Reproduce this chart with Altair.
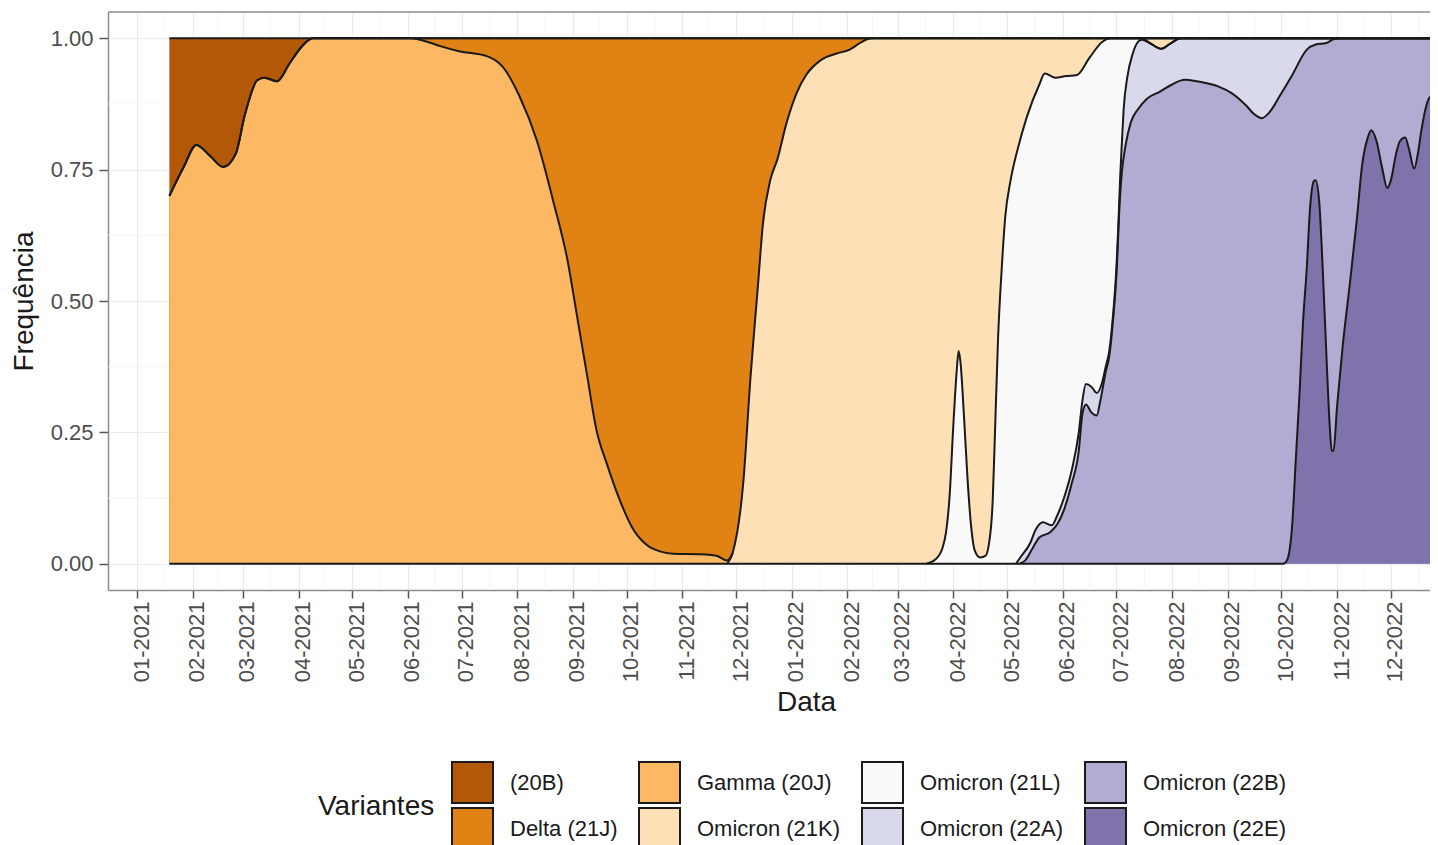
import altair as alt
import pandas as pd

# ---------------- data ----------------
variants = ["(20B)", "Delta (21J)", "Gamma (20J)", "Omicron (21K)",
            "Omicron (21L)", "Omicron (22A)", "Omicron (22B)", "Omicron (22E)"]
variant_colors = ["#b35806", "#e08214", "#fdb863", "#fee0b6",
                  "#f9f9f9", "#d8daeb", "#b2abd2", "#8073ac"]

tick_labels = ["01-2021", "02-2021", "03-2021", "04-2021", "05-2021", "06-2021",
               "07-2021", "08-2021", "09-2021", "10-2021", "11-2021", "12-2021",
               "01-2022", "02-2022", "03-2022", "04-2022", "05-2022", "06-2022",
               "07-2022", "08-2022", "09-2022", "10-2022", "11-2022", "12-2022"]
y_ticks = [0.0, 0.25, 0.5, 0.75, 1.0]
y_minor = [0.125, 0.375, 0.625, 0.875]

# Upper edge of each variant's band in the stacked frequency plot
# (stack from bottom: 22E, 22B, 22A, 21L, 21K, Gamma, Delta, 20B)
top_20b_dates = ["2021-01-19", "2022-12-27"]
top_20b = [1.0, 1.0]

top_delta_dates = ["2021-01-19", "2021-01-27", "2021-02-03", "2021-02-11", "2021-02-18",
                   "2021-02-25", "2021-03-02", "2021-03-09", "2021-03-13", "2021-03-20",
                   "2021-03-27", "2021-04-02", "2021-04-06", "2021-04-09", "2022-12-27"]
top_delta = [0.70, 0.755, 0.797, 0.775, 0.755, 0.78, 0.853, 0.92, 0.925, 0.918,
             0.952, 0.981, 0.995, 1.0, 1.0]

top_gamma_dates = ["2021-01-19", "2021-01-27", "2021-02-03", "2021-02-11", "2021-02-18",
                   "2021-02-25", "2021-03-02", "2021-03-09", "2021-03-13", "2021-03-20",
                   "2021-03-27", "2021-04-02", "2021-04-06", "2021-04-09",
                   "2021-06-02", "2021-06-13", "2021-06-19", "2021-06-30", "2021-07-15",
                   "2021-07-24", "2021-08-02", "2021-08-12", "2021-08-21", "2021-08-29",
                   "2021-09-03", "2021-09-09", "2021-09-14", "2021-09-20", "2021-09-27",
                   "2021-10-04", "2021-10-12", "2021-10-20", "2021-10-27", "2021-11-11",
                   "2021-11-20", "2021-11-26", "2021-11-29"]
top_gamma = [0.70, 0.755, 0.797, 0.775, 0.755, 0.78, 0.853, 0.92, 0.925, 0.918,
             0.952, 0.981, 0.995, 1.0,
             1.0, 0.992, 0.985, 0.975, 0.966, 0.945, 0.891, 0.804, 0.69, 0.577,
             0.477, 0.356, 0.256, 0.189, 0.122, 0.069, 0.036, 0.023, 0.019, 0.018,
             0.015, 0.006, 0.02]

top_21k_dates = ["2021-11-26", "2021-11-29", "2021-12-05", "2021-12-09", "2021-12-13",
                 "2021-12-16", "2021-12-20", "2021-12-24", "2021-12-29", "2022-01-04",
                 "2022-01-09", "2022-01-17", "2022-01-26", "2022-02-02", "2022-02-08",
                 "2022-02-12", "2022-02-15", "2022-12-27"]
top_21k = [0.0, 0.02, 0.156, 0.356, 0.524, 0.65, 0.73, 0.77, 0.838, 0.898,
           0.93, 0.958, 0.971, 0.978, 0.991, 0.998, 1.0, 1.0]

top_21l_dates = ["2022-03-17", "2022-03-22", "2022-03-26", "2022-03-28", "2022-03-30",
                 "2022-04-01", "2022-04-03", "2022-04-04", "2022-04-05", "2022-04-07",
                 "2022-04-09", "2022-04-11", "2022-04-13", "2022-04-16", "2022-04-19",
                 "2022-04-21", "2022-04-23", "2022-04-24", "2022-04-26", "2022-04-28",
                 "2022-04-30", "2022-05-03", "2022-05-07", "2022-05-12", "2022-05-19",
                 "2022-05-22", "2022-05-28", "2022-06-03", "2022-06-09", "2022-06-16",
                 "2022-06-23", "2022-06-28", "2022-07-15", "2022-07-20", "2022-07-26",
                 "2022-07-31", "2022-08-06", "2022-12-27"]
top_21l = [0.0, 0.008, 0.03, 0.06, 0.13, 0.26, 0.37, 0.405, 0.385, 0.28,
           0.16, 0.07, 0.025, 0.012, 0.015, 0.04, 0.12, 0.22, 0.43, 0.56,
           0.66, 0.73, 0.79, 0.85, 0.912, 0.933, 0.925, 0.928, 0.93, 0.963,
           0.993, 1.0, 1.0, 0.99, 0.98, 0.99, 1.0, 1.0]

top_22a_dates = ["2022-05-06", "2022-05-08", "2022-05-14", "2022-05-17", "2022-05-21",
                 "2022-05-26", "2022-05-29", "2022-06-02", "2022-06-06", "2022-06-10",
                 "2022-06-12", "2022-06-14", "2022-06-17", "2022-06-20", "2022-06-23",
                 "2022-06-25", "2022-06-27", "2022-06-29", "2022-07-01", "2022-07-02",
                 "2022-07-03", "2022-07-04", "2022-07-05", "2022-07-07", "2022-07-10",
                 "2022-07-13", "2022-07-15", "2022-07-20", "2022-07-26", "2022-07-31",
                 "2022-08-06", "2022-12-27"]
top_22a = [0.0, 0.01, 0.04, 0.065, 0.079, 0.073, 0.092, 0.128, 0.177, 0.25,
           0.31, 0.342, 0.337, 0.325, 0.345, 0.375, 0.405, 0.47, 0.565, 0.64,
           0.73, 0.8, 0.865, 0.925, 0.97, 0.993, 0.997, 0.99, 0.98, 0.99,
           1.0, 1.0]

top_22b_dates = ["2022-05-08", "2022-05-11", "2022-05-15", "2022-05-19", "2022-05-25",
                 "2022-05-29", "2022-06-02", "2022-06-06", "2022-06-10", "2022-06-12",
                 "2022-06-14", "2022-06-17", "2022-06-20", "2022-06-22", "2022-06-25",
                 "2022-06-27", "2022-06-29", "2022-07-01", "2022-07-03", "2022-07-04",
                 "2022-07-06", "2022-07-09", "2022-07-13", "2022-07-18", "2022-07-25",
                 "2022-08-01", "2022-08-08", "2022-08-15", "2022-08-27", "2022-09-03",
                 "2022-09-11", "2022-09-16", "2022-09-20", "2022-09-24", "2022-09-30",
                 "2022-10-07", "2022-10-15", "2022-10-20", "2022-10-26", "2022-10-30",
                 "2022-11-03", "2022-12-27"]
top_22b = [0.0, 0.006, 0.028, 0.05, 0.06, 0.075, 0.105, 0.152, 0.215, 0.285,
           0.303, 0.288, 0.282, 0.31, 0.365, 0.395, 0.46, 0.55, 0.70, 0.745,
           0.795, 0.84, 0.865, 0.885, 0.898, 0.912, 0.921, 0.918, 0.908, 0.896,
           0.873, 0.855, 0.848, 0.858, 0.89, 0.93, 0.978, 0.988, 0.991, 0.998,
           1.0, 1.0]

top_22e_dates = ["2021-01-19", "2022-10-02", "2022-10-04", "2022-10-07", "2022-10-09",
                 "2022-10-11", "2022-10-13", "2022-10-15", "2022-10-17", "2022-10-19",
                 "2022-10-20", "2022-10-22", "2022-10-24", "2022-10-26", "2022-10-28",
                 "2022-10-29", "2022-10-30", "2022-11-01", "2022-11-04", "2022-11-08",
                 "2022-11-12", "2022-11-15", "2022-11-18", "2022-11-20", "2022-11-23",
                 "2022-11-26", "2022-11-29", "2022-12-01", "2022-12-04", "2022-12-06",
                 "2022-12-09", "2022-12-11", "2022-12-14", "2022-12-16", "2022-12-18",
                 "2022-12-21", "2022-12-24", "2022-12-27"]
top_22e = [0.0, 0.0, 0.006, 0.075, 0.2, 0.32, 0.46, 0.557, 0.68, 0.728,
           0.73, 0.69, 0.56, 0.4, 0.256, 0.215, 0.215, 0.3, 0.41, 0.53,
           0.655, 0.76, 0.81, 0.825, 0.804, 0.755, 0.715, 0.73, 0.782, 0.804,
           0.811, 0.79, 0.752, 0.78, 0.825, 0.875, 0.891, 0.884]

edges = [
    (variants[0], top_20b_dates, top_20b),
    (variants[1], top_delta_dates, top_delta),
    (variants[2], top_gamma_dates, top_gamma),
    (variants[3], top_21k_dates, top_21k),
    (variants[4], top_21l_dates, top_21l),
    (variants[5], top_22a_dates, top_22a),
    (variants[6], top_22b_dates, top_22b),
    (variants[7], top_22e_dates, top_22e),
]
rows = []
for name, ds, vs in edges:
    for d, v in zip(ds, vs):
        rows.append({"variant": name, "date": d, "top": v})
df = pd.DataFrame(rows)

# legend is laid out row-wise, reorder so it reads column-wise like the original
legend_idx = [0, 2, 4, 6, 1, 3, 5, 7]
legend_order = [variants[i] for i in legend_idx]
legend_colors = [variant_colors[i] for i in legend_idx]

# ---------------- layout / style ----------------
W, H = 1322, 578
FONT = "Liberation Sans"
GRID = "#ebebeb"
BORDER = "#8c8c8c"
INK = "#1a1a1a"


def month_dt(lbl):
    return alt.DateTime(year=int(lbl[3:]), month=int(lbl[:2]), date=1, utc=True)


tick_ts = [pd.Timestamp(int(l[3:]), int(l[:2]), 1) for l in tick_labels]
minor_ts = [a + (b - a) / 2 for a, b in zip(tick_ts[:-1], tick_ts[1:])]
minor_ts.append(tick_ts[-1] + pd.Timedelta(days=15.5))
x_minor_df = pd.DataFrame({"date": [t.strftime("%Y-%m-%dT%H:%M:%SZ") for t in minor_ts]})
y_minor_df = pd.DataFrame({"top": y_minor})

x_scale = alt.Scale(
    type="utc", nice=False,
    domain=[alt.DateTime(year=2020, month=12, date=15, hours=19, utc=True),
            alt.DateTime(year=2022, month=12, date=22, hours=19, utc=True)])
y_scale = alt.Scale(domain=[-0.05, 1.05], nice=False, zero=False)

x_axis = alt.Axis(
    values=[month_dt(l) for l in tick_labels], format="%m-%Y",
    labelAngle=270, labelAlign="right", labelBaseline="middle", labelOffset=4,
    labelPadding=3, labelFontSize=22, labelFont=FONT, labelColor="#4d4d4d",
    tickSize=8, tickColor="#555555", tickWidth=1.5,
    domainColor=BORDER, domainWidth=1.5,
    grid=True, gridColor=GRID, gridWidth=1.2,
    title="Data", titleFont=FONT, titleFontSize=28, titleFontWeight="normal",
    titleColor=INK, titleX=698, titleY=120, titleBaseline="alphabetic",
    titleAlign="center")
y_axis = alt.Axis(
    values=y_ticks, format=".2f",
    labelFontSize=22, labelFont=FONT, labelColor="#4d4d4d", labelPadding=6,
    tickSize=9, tickColor="#555555", tickWidth=1.5,
    domainColor=BORDER, domainWidth=1.5,
    grid=True, gridColor=GRID, gridWidth=1.2,
    title="Frequência", titleFont=FONT, titleFontSize=28, titleFontWeight="normal",
    titleColor=INK, titleAngle=270, titleX=-76, titleY=H / 2,
    titleBaseline="alphabetic", titleAlign="center")

X = alt.X("date:T", scale=x_scale, axis=x_axis)
Y = alt.Y("top:Q", scale=y_scale, axis=y_axis)

legend = alt.Legend(
    title="Variantes", orient="none", legendX=210, legendY=749,
    columns=4, direction="horizontal", padding=0,
    titleOrient="left", titleAnchor="middle", titleBaseline="middle",
    titleFont=FONT, titleFontSize=28, titleFontWeight="normal", titleColor=INK,
    titlePadding=16,
    labelFont=FONT, labelFontSize=22, labelColor=INK, labelOffset=16, labelLimit=400,
    symbolType="square", symbolSize=1681, symbolStrokeColor=INK,
    symbolStrokeWidth=2, symbolOpacity=1,
    columnPadding=17, rowPadding=-6)
C = alt.Color("variant:N",
              scale=alt.Scale(domain=legend_order, range=legend_colors),
              legend=legend)

# ---------------- layers ----------------
minor_x = alt.Chart(x_minor_df).mark_rule(color="#f2f2f2", strokeWidth=0.8).encode(x=X)
minor_y = alt.Chart(y_minor_df).mark_rule(color="#f2f2f2", strokeWidth=0.8).encode(y=Y)

areas = []
for name in variants:
    areas.append(
        alt.Chart(df)
        .transform_filter(alt.datum.variant == name)
        .mark_area(interpolate="monotone", opacity=1, clip=True)
        .encode(x=X, y=Y, y2=alt.datum(0), color=C)
    )

lines = (
    alt.Chart(df)
    .mark_line(interpolate="monotone", color=INK, strokeWidth=2, clip=True,
               strokeJoin="round")
    .encode(x=X, y=Y, detail="variant:N")
)

top_border = (
    alt.Chart(pd.DataFrame({"k": [0]}))
    .mark_rule(color=BORDER, strokeWidth=1.5)
    .encode(x=alt.value(0), x2=alt.value(W), y=alt.value(0))
)

chart = (
    alt.layer(minor_x, minor_y, *areas, lines, top_border)
    .properties(width=W, height=H,
                padding={"left": 100, "top": 4, "right": 0, "bottom": 255},
                autosize=alt.AutoSizeParams(type="none"))
    .configure(font=FONT, background="white")
    .configure_view(stroke=None)
)

chart.save("out.html", embed_options={"renderer": "svg", "actions": False})
